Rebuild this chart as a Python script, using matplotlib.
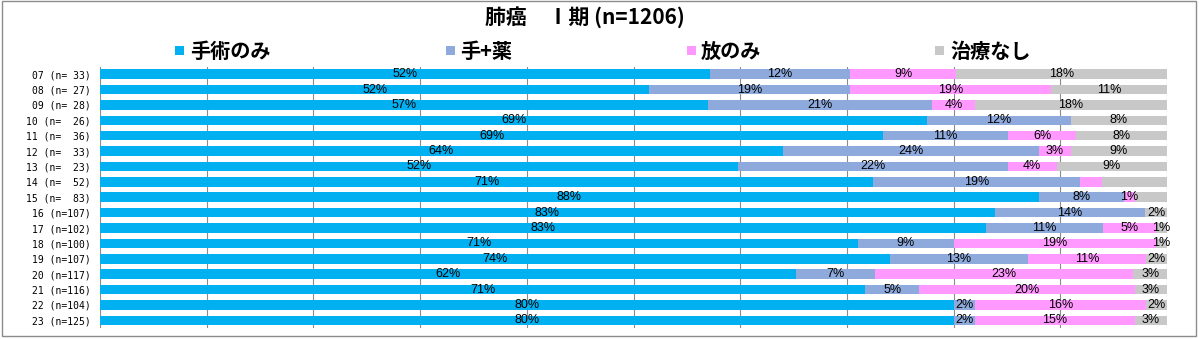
import numpy as np
import matplotlib
matplotlib.use("Agg")
import matplotlib.pyplot as plt
from matplotlib.patches import Rectangle

# ---- data ----
row_labels = ["07 (n= 33)", "08 (n= 27)", "09 (n= 28)", "10 (n=  26)", "11 (n=  36)",
              "12 (n=  33)", "13 (n=  23)", "14 (n=  52)", "15 (n=  83)", "16 (n=107)",
              "17 (n=102)", "18 (n=100)", "19 (n=107)", "20 (n=117)", "21 (n=116)",
              "22 (n=104)", "23 (n=125)"]
series_names = ["手術のみ", "手+薬", "放のみ", "治療なし"]
surgery_only = [52, 52, 57, 69, 69, 64, 52, 71, 88, 83, 83, 71, 74, 62, 71, 80, 80]
surgery_drug = [12, 19, 21, 12, 11, 24, 22, 19, 8, 14, 11, 9, 13, 7, 5, 2, 2]
radiation_only = [9, 19, 4, 0, 6, 3, 4, 2, 1, 0, 5, 19, 11, 23, 20, 16, 15]
no_treatment = [18, 11, 18, 8, 8, 9, 9, 6, 3, 2, 1, 1, 2, 3, 3, 2, 3]
# (row index, series index) whose data label is not shown in the original
hidden_labels = {(7, 2), (7, 3), (8, 3)}
title = "肺癌　Ⅰ期 (n=1206)"

# ---- style ----
colors = ["#00B0F0", "#8EA9DB", "#FF99FF", "#C8C8C8"]
W, H = 1199, 339

fig = plt.figure(figsize=(W / 100, H / 100), dpi=100)
fig.patch.set_facecolor("white")

ax_left, ax_right, ax_top, ax_bot = 100, 1167, 66.5, 328
ax = fig.add_axes([ax_left / W, 1 - ax_bot / H, (ax_right - ax_left) / W, (ax_bot - ax_top) / H])

data = np.array([surgery_only, surgery_drug, radiation_only, no_treatment], dtype=float)
totals = data.sum(axis=0)
shares = data / totals * 100
y = np.arange(len(row_labels))

left = np.zeros(len(row_labels))
for s in range(len(series_names)):
    ax.barh(y, shares[s], left=left, height=0.62, color=colors[s], zorder=2)
    for r in range(len(row_labels)):
        if data[s, r] > 0 and (r, s) not in hidden_labels:
            ax.text(left[r] + shares[s, r] / 2, y[r], f"{int(data[s, r])}%",
                    ha="center", va="center", fontsize=9,
                    family="Liberation Sans", color="black", zorder=3)
    left += shares[s]

ax.set_xlim(0, 100)
ax.set_ylim(len(row_labels) - 0.5, -0.5)
ax.set_xticks(np.arange(0, 101, 10))
ax.xaxis.grid(True, color="#8c8c8c", lw=0.8, zorder=0)
ax.set_axisbelow(True)
ax.tick_params(axis="x", length=0, labelbottom=False)
ax.set_yticks(y)
ax.set_yticklabels(row_labels, family="DejaVu Sans Mono", fontsize=7)
ax.tick_params(axis="y", length=0, pad=7)
for sp in ax.spines.values():
    sp.set_visible(False)

# title
fig.text(584.5 / W, 1 - 17.5 / H, title, ha="center", va="center", fontsize=15,
         family=["Noto Sans CJK JP", "DejaVu Sans"], weight="bold")

# legend
legend_square_x = [175, 446, 687, 935]
legend_text_x = [190, 460, 701, 950]
leg_y = 50.5
for s, name in enumerate(series_names):
    fig.patches.append(Rectangle((legend_square_x[s] / W, 1 - (leg_y + 4.5) / H), 9 / W, 9 / H,
                                 transform=fig.transFigure, facecolor=colors[s], edgecolor="none"))
    fig.text(legend_text_x[s] / W, 1 - (leg_y + 1) / H, name, ha="left", va="center",
             fontsize=14.5, family=["Noto Sans CJK JP", "DejaVu Sans"], weight="bold")

# outer border
fig.patches.append(Rectangle((2 / W, 1 - 336 / H), 1194 / W, 335 / H, transform=fig.transFigure,
                             facecolor="none", edgecolor="#8c8c8c", lw=1.0))

fig.savefig("out.png", dpi=100)
